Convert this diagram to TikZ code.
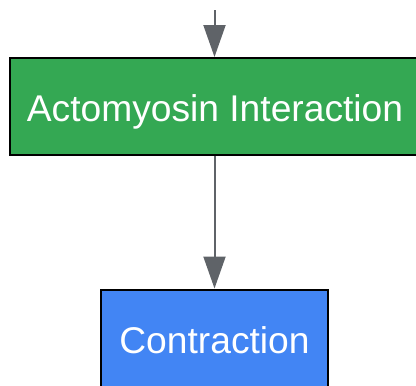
\documentclass[tikz,border=0pt]{standalone}
\usepackage{fontspec}
\setmainfont{Liberation Sans}
\usetikzlibrary{arrows.meta}
\definecolor{stepgreen}{HTML}{34A853}
\definecolor{stepblue}{HTML}{4285F4}
\definecolor{linkgray}{HTML}{5F6368}
\begin{document}
\begin{tikzpicture}[x=1pt,y=-1pt,
    stepbox/.style={draw=black,line width=2pt,minimum height=97pt,
      text=white,inner sep=0pt,text height=30pt,text depth=0pt,
      font=\fontsize{37.2}{40}\selectfont},
    link/.style={draw=linkgray,line width=2pt,-{Triangle[length=32pt,width=22pt]}}]
  \useasboundingbox (0,0) rectangle (416,386);
  \clip (0,0) rectangle (416,386);

  \coordinate (in) at (214.5,10);
  \node[stepbox,fill=stepgreen,minimum width=410pt] (actomyosin) at (215,106.5) {Actomyosin Interaction};
  \node[stepbox,fill=stepblue,minimum width=227pt] (contraction) at (214.5,338) {Contraction};

  \draw[link] (in) -- (actomyosin.north -| in);
  \draw[link] (actomyosin.south -| in) -- (contraction.north -| in);
\end{tikzpicture}
\end{document}
